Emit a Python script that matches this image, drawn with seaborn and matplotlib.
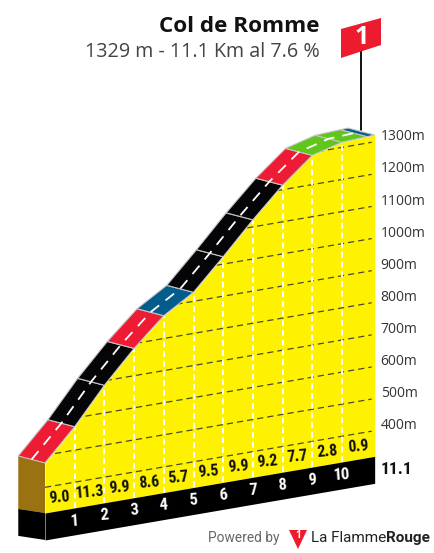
import numpy as np
import pandas as pd
import matplotlib
matplotlib.use('Agg')
import matplotlib.pyplot as plt
from matplotlib.patches import Polygon
from matplotlib.transforms import Affine2D
import seaborn as sns
import logging
logging.getLogger('matplotlib.font_manager').setLevel(logging.ERROR)

# 데이터
km = [0, 1, 2, 3, 4, 5, 6, 7, 8, 9, 10, 10.85, 11.1]
elev = [476, 573, 686, 785, 871, 928, 1023, 1122, 1214, 1291, 1316, 1320, 1321]
seg_color = ['#ED1B34', '#050507', '#050507', '#ED1B34', '#035C8C', '#050507', '#050507',
             '#050507', '#ED1B34', '#5FC61C', '#5FC61C', '#035C8C']
grade = ['9.0', '11.3', '9.9', '8.6', '5.7', '9.5', '9.9', '9.2', '7.7', '2.8', '0.9']
grade_km = [0.5, 1.5, 2.5, 3.5, 4.5, 5.5, 6.5, 7.5, 8.5, 9.5, 10.55]
km_ticks = [1, 2, 3, 4, 5, 6, 7, 8, 9, 10]
alt_ticks = [400, 500, 600, 700, 800, 900, 1000, 1100, 1200, 1300]

BASE = 320       # 바닥 고도
SLANT = 15.9     # km당 기울기(m)
DEPTH_KM = -0.9  # 도로 폭
DEPTH_M = 36

sns.set_theme(style='white')
plt.rcParams['font.family'] = ['Open Sans', 'DejaVu Sans']

fig = plt.figure(figsize=(4.35, 5.53), dpi=100)
ax = fig.add_axes([0, 0, 1, 1])
ax.axis('off')

skew = Affine2D.from_values(1, SLANT, 0, 1, 0, 0) + ax.transData
pix = Affine2D().scale(1 / 435, -1 / 553).translate(0, 1) + fig.transFigure

# 노란 단면
yellow = ax.fill_between(km, BASE, elev, color='#FFF200', lw=0, transform=skew, zorder=2)
clip = Polygon(list(zip(km, elev)) + [(11.1, BASE), (0, BASE)], transform=skew, fc='none', ec='none')
ax.add_patch(clip)

# 고도 격자선
grid = pd.DataFrame({'km': [0, 11.0] * len(alt_ticks),
                     'alt': np.repeat(alt_ticks, 2),
                     'tick': np.repeat(alt_ticks, 2)})
n0 = len(ax.lines)
sns.lineplot(data=grid, x='km', y='alt', units='tick', estimator=None, color='#4a4a2a', lw=0.9,
             ax=ax, transform=skew, zorder=3, legend=False)
for ln in ax.lines[n0:]:
    ln.set_dashes((5, 3.2))
    ln.set_clip_path(clip)

# km 세로 점선
for k in km_ticks:
    top = elev[km.index(k)]
    ax.plot([k, k], [BASE, top], color='white', lw=1.4, dashes=(3.0, 2.0), transform=skew, zorder=4)

# 아래 검은 띠, 왼쪽 옆면
ax.fill_between([0, 11.1], BASE - 84, BASE, color='black', lw=0, transform=skew, zorder=2)
ax.add_patch(Polygon([(0, BASE), (0, elev[0]), (DEPTH_KM, elev[0] + DEPTH_M), (DEPTH_KM, BASE + 27)],
                     fc='#9A7212', ec='none', transform=skew, zorder=2))
ax.add_patch(Polygon([(0, BASE), (0, BASE - 84), (DEPTH_KM, BASE - 57), (DEPTH_KM, BASE + 27)],
                     fc='black', ec='none', transform=skew, zorder=2))

# 도로
for i, c in enumerate(seg_color):
    ax.add_patch(Polygon([(km[i], elev[i]), (km[i + 1], elev[i + 1]),
                          (km[i + 1] + DEPTH_KM, elev[i + 1] + DEPTH_M),
                          (km[i] + DEPTH_KM, elev[i] + DEPTH_M)],
                         fc=c, ec='#C4C4C4', lw=0.8, transform=skew, zorder=5))
sns.lineplot(x=np.array(km) + DEPTH_KM / 2, y=np.array(elev) + DEPTH_M / 2, color='white', lw=1.3,
             ax=ax, transform=skew, zorder=6, estimator=None, sort=False)
ax.lines[-1].set_dashes((6, 4.5))

# 글자
narrow = ['Roboto Condensed', 'Asap Condensed', 'Liberation Sans Narrow', 'Liberation Sans']
for k, g in zip(grade_km, grade):
    ax.text(k, BASE + 40, g, transform=skew, ha='center', va='center', family=narrow,
            weight='bold', size=11.5, color='#111111', rotation=5, zorder=7)
for k in km_ticks:
    ax.text(k, BASE - 40, str(k), transform=skew, ha='center', va='center', family=narrow,
            weight='bold', size=12, color='white', rotation=4, zorder=7)
for a in alt_ticks:
    ax.text(11.3, a + 12, f'{a}m', transform=skew, ha='left', va='center', size=10, color='#333333')
ax.text(11.3, BASE - 43, '11.1', transform=skew, ha='left', va='center', family=narrow,
        weight='bold', size=12.5, color='#111111')

ax.text(320, 26, 'Col de Romme', transform=pix, ha='right', va='center', size=16.2, weight='bold', color='#111111')
ax.text(320, 52, '1329 m - 11.1 Km al 7.6 %', transform=pix, ha='right', va='center', size=14.2, color='#444444')

# 깃발
ax.plot([361, 361], [50, 130], color='black', lw=1.3, transform=pix, zorder=4)
ax.add_patch(Polygon([(341, 29), (381, 18), (381, 45), (341, 58)], fc='#ED1B2E', ec='none', transform=pix, zorder=5))
ax.text(362, 38, '1', transform=pix, ha='center', va='center', size=18, weight='bold', color='white', zorder=6)

# 로고
ax.text(280, 538, 'Powered by', transform=pix, ha='right', va='center', size=9.9, color='#666666', family='Roboto')
ax.add_patch(Polygon([(289, 530), (307, 530), (298, 549)], fc='#ED1B2E', ec='none', transform=pix))
ax.text(298, 536, '1', transform=pix, ha='center', va='center', size=7, weight='bold', color='white')
ax.text(311, 538, 'La Flamme', transform=pix, ha='left', va='center', size=11, color='#222222', family='Roboto')
ax.text(386, 538, 'Rouge', transform=pix, ha='left', va='center', size=11, weight='bold', color='#222222', family='Roboto')

ax.set_xlim(-45 / 29.7, 390 / 29.7)
ax.set_ylim(BASE - 40 / 0.321, BASE + 513 / 0.321)

fig.savefig('out.png', dpi=100)
